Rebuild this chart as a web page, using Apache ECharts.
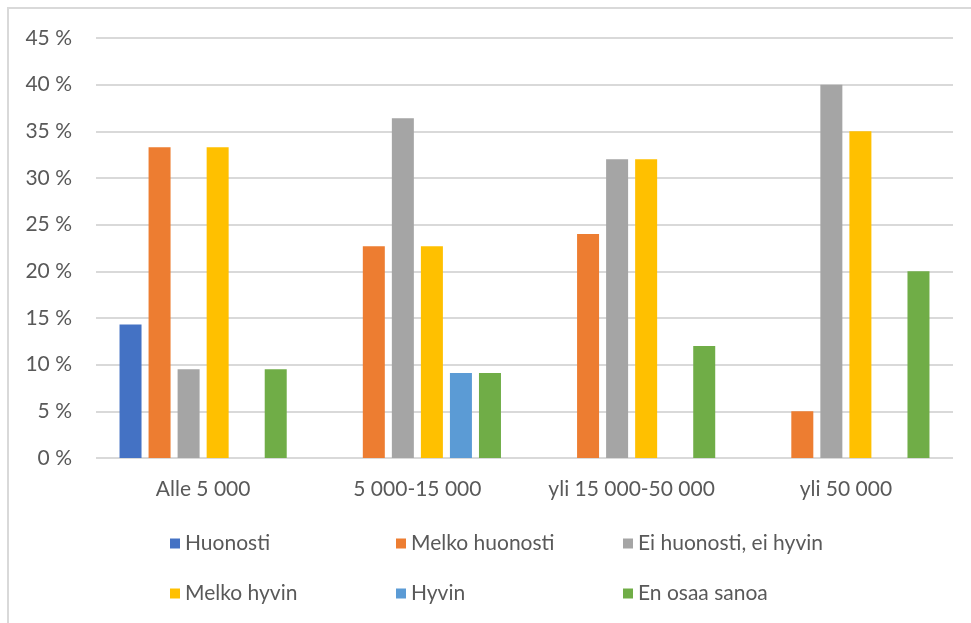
<!DOCTYPE html>
<html>
<head>
<meta charset="utf-8">
<script src="https://cdn.jsdelivr.net/npm/echarts@6/dist/echarts.min.js"></script>
<style>
  html, body { margin: 0; padding: 0; background: #fff; }
  #chart { width: 971px; height: 623px; }
</style>
</head>
<body>
<div id="chart"></div>
<script>
// Kunnan asukasluku -luokat
const categories = ['Alle 5 000', '5 000-15 000', 'yli 15 000-50 000', 'yli 50 000'];

// Vastausosuudet (%) luokittain
const seriesNames = ['Huonosti', 'Melko huonosti', 'Ei huonosti, ei hyvin', 'Melko hyvin', 'Hyvin', 'En osaa sanoa'];
const huonosti        = [14.3, 0, 0, 0];
const melkoHuonosti   = [33.3, 22.7, 24, 5];
const eiHuonostiEiHyv = [9.5, 36.4, 32, 40];
const melkoHyvin      = [33.3, 22.7, 32, 35];
const hyvin           = [0, 9.1, 0, 0];
const enOsaaSanoa     = [9.5, 9.1, 12, 20];

const yTicks = [0, 5, 10, 15, 20, 25, 30, 35, 40, 45];

const values = [huonosti, melkoHuonosti, eiHuonostiEiHyv, melkoHyvin, hyvin, enOsaaSanoa];
const colors = ['#4472C4', '#ED7D31', '#A5A5A5', '#FFC000', '#5B9BD5', '#70AD47'];

const font = 'Lato, "Liberation Sans", sans-serif';
const textColor = '#595959';
const fontSize = 21;

// Legend laid out as a 3 x 2 grid of single-item legends
const legendCols = [165, 391, 618];
const legendRows = [528, 578];
const legends = seriesNames.map((name, i) => ({
  data: [name],
  left: legendCols[i % 3],
  top: legendRows[Math.floor(i / 3)],
  icon: 'rect',
  itemWidth: 10,
  itemHeight: 10,
  itemGap: 0,
  selectedMode: false,
  textStyle: { color: textColor, fontSize: fontSize, fontFamily: font }
}));

const chart = echarts.init(document.getElementById('chart'), null, { renderer: 'canvas' });
chart.setOption({
  animation: false,
  backgroundColor: '#fff',
  graphic: [{
    type: 'rect',
    shape: { x: 8, y: 8, width: 1000, height: 700 },
    style: { fill: 'none', stroke: '#d9d9d9', lineWidth: 2 },
    silent: true,
    z: 0
  }],
  grid: { left: 96, right: 18, top: 38, bottom: 165, containLabel: false },
  legend: legends,
  xAxis: {
    type: 'category',
    data: categories,
    axisLine: { show: false },
    axisTick: { show: false },
    axisLabel: { color: textColor, fontSize: fontSize, fontFamily: font, margin: 21, interval: 0 }
  },
  yAxis: {
    type: 'value',
    min: yTicks[0],
    max: yTicks[yTicks.length - 1],
    interval: 5,
    axisLine: { show: false },
    axisTick: { show: false },
    splitLine: { lineStyle: { color: '#d9d9d9', width: 2 } },
    axisLabel: {
      color: textColor, fontSize: fontSize, fontFamily: font, margin: 24,
      formatter: v => v + ' %'
    }
  },
  series: seriesNames.map((name, i) => ({
    name: name,
    type: 'bar',
    data: values[i],
    barWidth: 22,
    barGap: '32%',
    itemStyle: { color: colors[i] }
  }))
});
</script>
</body>
</html>
